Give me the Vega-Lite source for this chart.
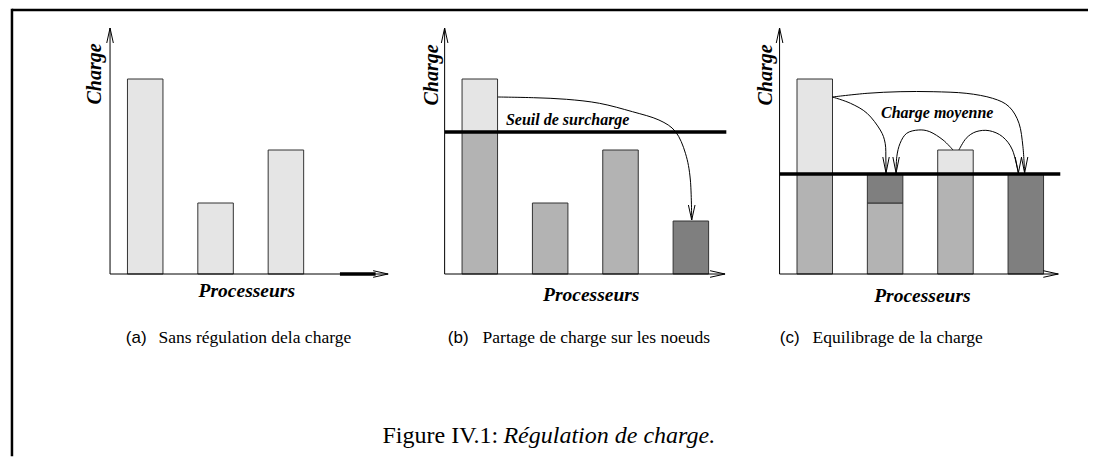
{
  "$schema": "https://vega.github.io/schema/vega-lite/v6.json",
  "width": 1093,
  "height": 459,
  "autosize": {"type": "fit", "contains": "padding"},
  "padding": 0,
  "background": "white",
  "config": {"view": {"stroke": null}},
  "datasets": {
    "barres": [
      {"panneau": "a", "processeur": 1, "bas": 0, "haut": 19.5, "part": "initiale"},
      {"panneau": "a", "processeur": 2, "bas": 0, "haut": 7.1, "part": "initiale"},
      {"panneau": "a", "processeur": 3, "bas": 0, "haut": 12.4, "part": "initiale"},
      {"panneau": "b", "processeur": 1, "bas": 0, "haut": 14.2, "part": "conservée"},
      {"panneau": "b", "processeur": 1, "bas": 14.2, "haut": 19.5, "part": "initiale"},
      {"panneau": "b", "processeur": 2, "bas": 0, "haut": 7.1, "part": "conservée"},
      {"panneau": "b", "processeur": 3, "bas": 0, "haut": 12.4, "part": "conservée"},
      {"panneau": "b", "processeur": 4, "bas": 0, "haut": 5.3, "part": "reçue"},
      {"panneau": "c", "processeur": 1, "bas": 0, "haut": 10, "part": "conservée"},
      {"panneau": "c", "processeur": 1, "bas": 10, "haut": 19.5, "part": "initiale"},
      {"panneau": "c", "processeur": 2, "bas": 0, "haut": 7.1, "part": "conservée"},
      {"panneau": "c", "processeur": 2, "bas": 7.1, "haut": 10, "part": "reçue"},
      {"panneau": "c", "processeur": 3, "bas": 0, "haut": 10, "part": "conservée"},
      {"panneau": "c", "processeur": 3, "bas": 10, "haut": 12.4, "part": "initiale"},
      {"panneau": "c", "processeur": 4, "bas": 0, "haut": 10, "part": "reçue"}
    ],
    "fleches": [
      {"panneau": "b", "fleche": "b1-b4", "ordre": 1, "processeur": 1.255, "charge": 17.7},
      {"panneau": "b", "fleche": "b1-b4", "ordre": 2, "processeur": 1.762, "charge": 17.63},
      {"panneau": "b", "fleche": "b1-b4", "ordre": 3, "processeur": 2.232, "charge": 17.47},
      {"panneau": "b", "fleche": "b1-b4", "ordre": 4, "processeur": 2.701, "charge": 17.07},
      {"panneau": "b", "fleche": "b1-b4", "ordre": 5, "processeur": 3.17, "charge": 16.23},
      {"panneau": "b", "fleche": "b1-b4", "ordre": 6, "processeur": 3.546, "charge": 15.4},
      {"panneau": "b", "fleche": "b1-b4", "ordre": 7, "processeur": 3.782, "charge": 14.23},
      {"panneau": "b", "fleche": "b1-b4", "ordre": 8, "processeur": 3.923, "charge": 12.07},
      {"panneau": "b", "fleche": "b1-b4", "ordre": 9, "processeur": 3.993, "charge": 9.4},
      {"panneau": "b", "fleche": "b1-b4", "ordre": 10, "processeur": 4.012, "charge": 5.4},
      {"panneau": "c", "fleche": "c1-c2", "ordre": 1, "processeur": 1.251, "charge": 17.7},
      {"panneau": "c", "fleche": "c1-c2", "ordre": 2, "processeur": 1.508, "charge": 17.07},
      {"panneau": "c", "fleche": "c1-c2", "ordre": 3, "processeur": 1.744, "charge": 16.07},
      {"panneau": "c", "fleche": "c1-c2", "ordre": 4, "processeur": 1.931, "charge": 14.4},
      {"panneau": "c", "fleche": "c1-c2", "ordre": 5, "processeur": 2.001, "charge": 13.07},
      {"panneau": "c", "fleche": "c1-c2", "ordre": 6, "processeur": 2.011, "charge": 11.4},
      {"panneau": "c", "fleche": "c1-c2", "ordre": 7, "processeur": 2.013, "charge": 10.1},
      {"panneau": "c", "fleche": "c1-c4", "ordre": 1, "processeur": 1.251, "charge": 17.7},
      {"panneau": "c", "fleche": "c1-c4", "ordre": 2, "processeur": 1.744, "charge": 18.07},
      {"panneau": "c", "fleche": "c1-c4", "ordre": 3, "processeur": 2.213, "charge": 18.23},
      {"panneau": "c", "fleche": "c1-c4", "ordre": 4, "processeur": 2.683, "charge": 18.23},
      {"panneau": "c", "fleche": "c1-c4", "ordre": 5, "processeur": 3.152, "charge": 18.07},
      {"panneau": "c", "fleche": "c1-c4", "ordre": 6, "processeur": 3.528, "charge": 17.57},
      {"panneau": "c", "fleche": "c1-c4", "ordre": 7, "processeur": 3.762, "charge": 16.73},
      {"panneau": "c", "fleche": "c1-c4", "ordre": 8, "processeur": 3.903, "charge": 15.07},
      {"panneau": "c", "fleche": "c1-c4", "ordre": 9, "processeur": 3.959, "charge": 12.73},
      {"panneau": "c", "fleche": "c1-c4", "ordre": 10, "processeur": 3.983, "charge": 10.1},
      {"panneau": "c", "fleche": "c3-c2", "ordre": 1, "processeur": 2.965, "charge": 12.4},
      {"panneau": "c", "fleche": "c3-c2", "ordre": 2, "processeur": 2.824, "charge": 13.4},
      {"panneau": "c", "fleche": "c3-c2", "ordre": 3, "processeur": 2.635, "charge": 14.23},
      {"panneau": "c", "fleche": "c3-c2", "ordre": 4, "processeur": 2.472, "charge": 14.4},
      {"panneau": "c", "fleche": "c3-c2", "ordre": 5, "processeur": 2.307, "charge": 14.07},
      {"panneau": "c", "fleche": "c3-c2", "ordre": 6, "processeur": 2.213, "charge": 13.07},
      {"panneau": "c", "fleche": "c3-c2", "ordre": 7, "processeur": 2.166, "charge": 11.73},
      {"panneau": "c", "fleche": "c3-c2", "ordre": 8, "processeur": 2.156, "charge": 10.1},
      {"panneau": "c", "fleche": "c3-c4", "ordre": 1, "processeur": 3.049, "charge": 12.4},
      {"panneau": "c", "fleche": "c3-c4", "ordre": 2, "processeur": 3.152, "charge": 13.57},
      {"panneau": "c", "fleche": "c3-c4", "ordre": 3, "processeur": 3.293, "charge": 14.23},
      {"panneau": "c", "fleche": "c3-c4", "ordre": 4, "processeur": 3.48, "charge": 14.33},
      {"panneau": "c", "fleche": "c3-c4", "ordre": 5, "processeur": 3.669, "charge": 13.73},
      {"panneau": "c", "fleche": "c3-c4", "ordre": 6, "processeur": 3.81, "charge": 12.4},
      {"panneau": "c", "fleche": "c3-c4", "ordre": 7, "processeur": 3.894, "charge": 10.1}
    ]
  },
  "resolve": {"scale": {"x": "independent"}},
  "layer": [
    {
      "layer": [
        {"data": {"values": [{}]}, "mark": {"type": "rule", "color": "black", "strokeWidth": 2.5},
         "encoding": {"x": {"datum": -0.894, "type": "quantitative", "scale": {"domain": [-0.993, 14.401], "nice": false, "zero": false}, "axis": null},
                      "x2": {"datum": 14.401},
                      "y": {"datum": 26.4, "type": "quantitative", "scale": {"domain": [-18.5, 27.4], "nice": false, "zero": false}, "axis": null}}},
        {"data": {"values": [{}]}, "mark": {"type": "rule", "color": "black", "strokeWidth": 2.5, "strokeCap": "square"},
         "encoding": {"x": {"datum": -0.894, "type": "quantitative", "scale": {"domain": [-0.993, 14.401], "nice": false, "zero": false}, "axis": null},
                      "y": {"datum": -18.1, "type": "quantitative", "scale": {"domain": [-18.5, 27.4], "nice": false, "zero": false}, "axis": null},
                      "y2": {"datum": 26.4}}},
        {"data": {"name": "barres"}, "transform": [{"filter": "datum.panneau === 'a'"}],
         "mark": {"type": "bar", "width": 35.5, "stroke": "#333333", "strokeWidth": 1},
         "encoding": {"x": {"field": "processeur", "type": "quantitative", "scale": {"domain": [-0.993, 14.401], "nice": false, "zero": false}, "axis": null},
                      "y": {"field": "bas", "type": "quantitative", "scale": {"domain": [-18.5, 27.4], "nice": false, "zero": false}, "axis": null},
                      "y2": {"field": "haut"},
                      "fill": {"field": "part", "type": "nominal", "scale": {"domain": ["initiale", "conservée", "reçue"], "range": ["#e5e5e5", "#b3b3b3", "#7f7f7f"]}, "legend": null}}},
        {"data": {"values": [{}]}, "mark": {"type": "rule", "color": "black", "strokeWidth": 1},
         "encoding": {"x": {"datum": 0.5, "type": "quantitative", "scale": {"domain": [-0.993, 14.401], "nice": false, "zero": false}, "axis": null},
                      "y": {"datum": 0, "type": "quantitative", "scale": {"domain": [-18.5, 27.4], "nice": false, "zero": false}, "axis": null},
                      "y2": {"datum": 24.6}}},
        {"data": {"values": [{}]}, "mark": {"type": "point", "shape": "M-0.44,1L0,-1L0.44,1", "size": 225, "filled": false, "color": "black", "strokeWidth": 1, "opacity": 1, "yOffset": 7.5},
         "encoding": {"x": {"datum": 0.5, "type": "quantitative", "scale": {"domain": [-0.993, 14.401], "nice": false, "zero": false}, "axis": null},
                      "y": {"datum": 24.6, "type": "quantitative", "scale": {"domain": [-18.5, 27.4], "nice": false, "zero": false}, "axis": null}}},
        {"data": {"values": [{}]}, "mark": {"type": "rule", "color": "black", "strokeWidth": 1},
         "encoding": {"x": {"datum": 0.5, "type": "quantitative", "scale": {"domain": [-0.993, 14.401], "nice": false, "zero": false}, "axis": null},
                      "x2": {"datum": 4.453},
                      "y": {"datum": 0, "type": "quantitative", "scale": {"domain": [-18.5, 27.4], "nice": false, "zero": false}, "axis": null}}},
        {"data": {"values": [{}]}, "mark": {"type": "rule", "color": "black", "strokeWidth": 3.5},
         "encoding": {"x": {"datum": 3.768, "type": "quantitative", "scale": {"domain": [-0.993, 14.401], "nice": false, "zero": false}, "axis": null},
                      "x2": {"datum": 4.275},
                      "y": {"datum": 0, "type": "quantitative", "scale": {"domain": [-18.5, 27.4], "nice": false, "zero": false}, "axis": null}}},
        {"data": {"values": [{}]}, "mark": {"type": "point", "shape": "M-1,-0.44L1,0L-1,0.44", "size": 225, "filled": false, "color": "black", "strokeWidth": 1, "opacity": 1, "xOffset": -7.5},
         "encoding": {"x": {"datum": 4.453, "type": "quantitative", "scale": {"domain": [-0.993, 14.401], "nice": false, "zero": false}, "axis": null},
                      "y": {"datum": 0, "type": "quantitative", "scale": {"domain": [-18.5, 27.4], "nice": false, "zero": false}, "axis": null}}},
        {"data": {"values": [{}]}, "mark": {"type": "text", "text": "Charge", "font": "Liberation Serif", "fontStyle": "italic", "fontWeight": "bold", "fontSize": 20, "angle": 270, "align": "center", "baseline": "middle", "color": "black"},
         "encoding": {"x": {"datum": 0.29, "type": "quantitative", "scale": {"domain": [-0.993, 14.401], "nice": false, "zero": false}, "axis": null},
                      "y": {"datum": 20.0, "type": "quantitative", "scale": {"domain": [-18.5, 27.4], "nice": false, "zero": false}, "axis": null}}},
        {"data": {"values": [{}]}, "mark": {"type": "text", "text": "Processeurs", "font": "Liberation Serif", "fontStyle": "italic", "fontWeight": "bold", "fontSize": 19.5, "align": "center", "baseline": "alphabetic", "color": "black"},
         "encoding": {"x": {"datum": 2.444, "type": "quantitative", "scale": {"domain": [-0.993, 14.401], "nice": false, "zero": false}, "axis": null},
                      "y": {"datum": -2.3, "type": "quantitative", "scale": {"domain": [-18.5, 27.4], "nice": false, "zero": false}, "axis": null}}},
        {"data": {"values": [{}]}, "mark": {"type": "text", "text": "(a)", "font": "Liberation Sans", "fontSize": 17, "align": "left", "baseline": "alphabetic", "color": "black"},
         "encoding": {"x": {"datum": 0.725, "type": "quantitative", "scale": {"domain": [-0.993, 14.401], "nice": false, "zero": false}, "axis": null},
                      "y": {"datum": -6.9, "type": "quantitative", "scale": {"domain": [-18.5, 27.4], "nice": false, "zero": false}, "axis": null}}},
        {"data": {"values": [{}]}, "mark": {"type": "text", "text": "Sans régulation dela charge", "font": "Liberation Serif", "fontSize": 17.5, "align": "left", "baseline": "alphabetic", "color": "black"},
         "encoding": {"x": {"datum": 1.19, "type": "quantitative", "scale": {"domain": [-0.993, 14.401], "nice": false, "zero": false}, "axis": null},
                      "y": {"datum": -6.9, "type": "quantitative", "scale": {"domain": [-18.5, 27.4], "nice": false, "zero": false}, "axis": null}}},
        {"data": {"values": [{}]}, "mark": {"type": "text", "text": "Figure IV.1:", "font": "Liberation Serif", "fontSize": 24, "align": "left", "baseline": "alphabetic", "color": "black"},
         "encoding": {"x": {"datum": 4.373, "type": "quantitative", "scale": {"domain": [-0.993, 14.401], "nice": false, "zero": false}, "axis": null},
                      "y": {"datum": -16.9, "type": "quantitative", "scale": {"domain": [-18.5, 27.4], "nice": false, "zero": false}, "axis": null}}},
        {"data": {"values": [{}]}, "mark": {"type": "text", "text": "Régulation de charge.", "font": "Liberation Serif", "fontStyle": "italic", "fontSize": 24, "align": "left", "baseline": "alphabetic", "color": "black"},
         "encoding": {"x": {"datum": 6.092, "type": "quantitative", "scale": {"domain": [-0.993, 14.401], "nice": false, "zero": false}, "axis": null},
                      "y": {"datum": -16.9, "type": "quantitative", "scale": {"domain": [-18.5, 27.4], "nice": false, "zero": false}, "axis": null}}}
      ]
    },
    {
      "layer": [
        {"data": {"name": "barres"}, "transform": [{"filter": "datum.panneau === 'b'"}],
         "mark": {"type": "bar", "width": 35.5, "stroke": "#333333", "strokeWidth": 1},
         "encoding": {"x": {"field": "processeur", "type": "quantitative", "scale": {"domain": [-5.749, 9.645], "nice": false, "zero": false}, "axis": null},
                      "y": {"field": "bas", "type": "quantitative", "scale": {"domain": [-18.5, 27.4], "nice": false, "zero": false}, "axis": null},
                      "y2": {"field": "haut"},
                      "fill": {"field": "part", "type": "nominal", "scale": {"domain": ["initiale", "conservée", "reçue"], "range": ["#e5e5e5", "#b3b3b3", "#7f7f7f"]}, "legend": null}}},
        {"data": {"values": [{}]}, "mark": {"type": "rule", "color": "black", "strokeWidth": 3.5},
         "encoding": {"x": {"datum": 0.504, "type": "quantitative", "scale": {"domain": [-5.749, 9.645], "nice": false, "zero": false}, "axis": null},
                      "x2": {"datum": 4.504},
                      "y": {"datum": 14.2, "type": "quantitative", "scale": {"domain": [-18.5, 27.4], "nice": false, "zero": false}, "axis": null}}},
        {"data": {"values": [{}]}, "mark": {"type": "rule", "color": "black", "strokeWidth": 1},
         "encoding": {"x": {"datum": 0.5, "type": "quantitative", "scale": {"domain": [-5.749, 9.645], "nice": false, "zero": false}, "axis": null},
                      "y": {"datum": 0, "type": "quantitative", "scale": {"domain": [-18.5, 27.4], "nice": false, "zero": false}, "axis": null},
                      "y2": {"datum": 24.6}}},
        {"data": {"values": [{}]}, "mark": {"type": "point", "shape": "M-0.44,1L0,-1L0.44,1", "size": 225, "filled": false, "color": "black", "strokeWidth": 1, "opacity": 1, "yOffset": 7.5},
         "encoding": {"x": {"datum": 0.5, "type": "quantitative", "scale": {"domain": [-5.749, 9.645], "nice": false, "zero": false}, "axis": null},
                      "y": {"datum": 24.6, "type": "quantitative", "scale": {"domain": [-18.5, 27.4], "nice": false, "zero": false}, "axis": null}}},
        {"data": {"values": [{}]}, "mark": {"type": "rule", "color": "black", "strokeWidth": 1},
         "encoding": {"x": {"datum": 0.5, "type": "quantitative", "scale": {"domain": [-5.749, 9.645], "nice": false, "zero": false}, "axis": null},
                      "x2": {"datum": 4.486},
                      "y": {"datum": 0, "type": "quantitative", "scale": {"domain": [-18.5, 27.4], "nice": false, "zero": false}, "axis": null}}},
        {"data": {"values": [{}]}, "mark": {"type": "point", "shape": "M-1,-0.44L1,0L-1,0.44", "size": 225, "filled": false, "color": "black", "strokeWidth": 1, "opacity": 1, "xOffset": -7.5},
         "encoding": {"x": {"datum": 4.486, "type": "quantitative", "scale": {"domain": [-5.749, 9.645], "nice": false, "zero": false}, "axis": null},
                      "y": {"datum": 0, "type": "quantitative", "scale": {"domain": [-18.5, 27.4], "nice": false, "zero": false}, "axis": null}}},
        {"data": {"name": "fleches"}, "transform": [{"filter": "datum.panneau === 'b'"}],
         "mark": {"type": "line", "interpolate": "cardinal", "color": "black", "strokeWidth": 1},
         "encoding": {"x": {"field": "processeur", "type": "quantitative", "scale": {"domain": [-5.749, 9.645], "nice": false, "zero": false}, "axis": null},
                      "y": {"field": "charge", "type": "quantitative", "scale": {"domain": [-18.5, 27.4], "nice": false, "zero": false}, "axis": null},
                      "detail": {"field": "fleche", "type": "nominal"},
                      "order": {"field": "ordre", "type": "quantitative"}}},
        {"data": {"name": "fleches"}, "transform": [{"filter": "datum.panneau === 'b'"}, {"joinaggregate": [{"op": "max", "field": "ordre", "as": "dernier"}], "groupby": ["fleche"]}, {"filter": "datum.ordre === datum.dernier"}],
         "mark": {"type": "point", "shape": "M-0.44,-1L0,1L0.44,-1", "size": 225, "filled": false, "color": "black", "strokeWidth": 1, "opacity": 1, "yOffset": -7.5},
         "encoding": {"x": {"field": "processeur", "type": "quantitative", "scale": {"domain": [-5.749, 9.645], "nice": false, "zero": false}, "axis": null},
                      "y": {"field": "charge", "type": "quantitative", "scale": {"domain": [-18.5, 27.4], "nice": false, "zero": false}, "axis": null}}},
        {"data": {"values": [{}]}, "mark": {"type": "text", "text": "Charge", "font": "Liberation Serif", "fontStyle": "italic", "fontWeight": "bold", "fontSize": 20, "angle": 270, "align": "center", "baseline": "middle", "color": "black"},
         "encoding": {"x": {"datum": 0.32, "type": "quantitative", "scale": {"domain": [-5.749, 9.645], "nice": false, "zero": false}, "axis": null},
                      "y": {"datum": 19.9, "type": "quantitative", "scale": {"domain": [-18.5, 27.4], "nice": false, "zero": false}, "axis": null}}},
        {"data": {"values": [{}]}, "mark": {"type": "text", "text": "Processeurs", "font": "Liberation Serif", "fontStyle": "italic", "fontWeight": "bold", "fontSize": 19.5, "align": "center", "baseline": "alphabetic", "color": "black"},
         "encoding": {"x": {"datum": 2.584, "type": "quantitative", "scale": {"domain": [-5.749, 9.645], "nice": false, "zero": false}, "axis": null},
                      "y": {"datum": -2.7, "type": "quantitative", "scale": {"domain": [-18.5, 27.4], "nice": false, "zero": false}, "axis": null}}},
        {"data": {"values": [{}]}, "mark": {"type": "text", "text": "Seuil de surcharge", "font": "Liberation Serif", "fontStyle": "italic", "fontWeight": "bold", "fontSize": 16, "align": "center", "baseline": "alphabetic", "color": "black"},
         "encoding": {"x": {"datum": 2.249, "type": "quantitative", "scale": {"domain": [-5.749, 9.645], "nice": false, "zero": false}, "axis": null},
                      "y": {"datum": 14.9, "type": "quantitative", "scale": {"domain": [-18.5, 27.4], "nice": false, "zero": false}, "axis": null}}},
        {"data": {"values": [{}]}, "mark": {"type": "text", "text": "(b)", "font": "Liberation Sans", "fontSize": 17, "align": "left", "baseline": "alphabetic", "color": "black"},
         "encoding": {"x": {"datum": 0.546, "type": "quantitative", "scale": {"domain": [-5.749, 9.645], "nice": false, "zero": false}, "axis": null},
                      "y": {"datum": -6.9, "type": "quantitative", "scale": {"domain": [-18.5, 27.4], "nice": false, "zero": false}, "axis": null}}},
        {"data": {"values": [{}]}, "mark": {"type": "text", "text": "Partage de charge sur les noeuds", "font": "Liberation Serif", "fontSize": 17.5, "align": "left", "baseline": "alphabetic", "color": "black"},
         "encoding": {"x": {"datum": 1.039, "type": "quantitative", "scale": {"domain": [-5.749, 9.645], "nice": false, "zero": false}, "axis": null},
                      "y": {"datum": -6.9, "type": "quantitative", "scale": {"domain": [-18.5, 27.4], "nice": false, "zero": false}, "axis": null}}}
      ]
    },
    {
      "layer": [
        {"data": {"name": "barres"}, "transform": [{"filter": "datum.panneau === 'c'"}],
         "mark": {"type": "bar", "width": 35.5, "stroke": "#333333", "strokeWidth": 1},
         "encoding": {"x": {"field": "processeur", "type": "quantitative", "scale": {"domain": [-10.51, 4.884], "nice": false, "zero": false}, "axis": null},
                      "y": {"field": "bas", "type": "quantitative", "scale": {"domain": [-18.5, 27.4], "nice": false, "zero": false}, "axis": null},
                      "y2": {"field": "haut"},
                      "fill": {"field": "part", "type": "nominal", "scale": {"domain": ["initiale", "conservée", "reçue"], "range": ["#e5e5e5", "#b3b3b3", "#7f7f7f"]}, "legend": null}}},
        {"data": {"values": [{}]}, "mark": {"type": "rule", "color": "black", "strokeWidth": 3.5},
         "encoding": {"x": {"datum": 0.504, "type": "quantitative", "scale": {"domain": [-10.51, 4.884], "nice": false, "zero": false}, "axis": null},
                      "x2": {"datum": 4.49},
                      "y": {"datum": 10, "type": "quantitative", "scale": {"domain": [-18.5, 27.4], "nice": false, "zero": false}, "axis": null}}},
        {"data": {"values": [{}]}, "mark": {"type": "rule", "color": "black", "strokeWidth": 1},
         "encoding": {"x": {"datum": 0.5, "type": "quantitative", "scale": {"domain": [-10.51, 4.884], "nice": false, "zero": false}, "axis": null},
                      "y": {"datum": 0, "type": "quantitative", "scale": {"domain": [-18.5, 27.4], "nice": false, "zero": false}, "axis": null},
                      "y2": {"datum": 24.6}}},
        {"data": {"values": [{}]}, "mark": {"type": "point", "shape": "M-0.44,1L0,-1L0.44,1", "size": 225, "filled": false, "color": "black", "strokeWidth": 1, "opacity": 1, "yOffset": 7.5},
         "encoding": {"x": {"datum": 0.5, "type": "quantitative", "scale": {"domain": [-10.51, 4.884], "nice": false, "zero": false}, "axis": null},
                      "y": {"datum": 24.6, "type": "quantitative", "scale": {"domain": [-18.5, 27.4], "nice": false, "zero": false}, "axis": null}}},
        {"data": {"values": [{}]}, "mark": {"type": "rule", "color": "black", "strokeWidth": 1},
         "encoding": {"x": {"datum": 0.5, "type": "quantitative", "scale": {"domain": [-10.51, 4.884], "nice": false, "zero": false}, "axis": null},
                      "x2": {"datum": 4.462},
                      "y": {"datum": 0, "type": "quantitative", "scale": {"domain": [-18.5, 27.4], "nice": false, "zero": false}, "axis": null}}},
        {"data": {"values": [{}]}, "mark": {"type": "point", "shape": "M-1,-0.44L1,0L-1,0.44", "size": 225, "filled": false, "color": "black", "strokeWidth": 1, "opacity": 1, "xOffset": -7.5},
         "encoding": {"x": {"datum": 4.462, "type": "quantitative", "scale": {"domain": [-10.51, 4.884], "nice": false, "zero": false}, "axis": null},
                      "y": {"datum": 0, "type": "quantitative", "scale": {"domain": [-18.5, 27.4], "nice": false, "zero": false}, "axis": null}}},
        {"data": {"name": "fleches"}, "transform": [{"filter": "datum.panneau === 'c'"}],
         "mark": {"type": "line", "interpolate": "cardinal", "color": "black", "strokeWidth": 1},
         "encoding": {"x": {"field": "processeur", "type": "quantitative", "scale": {"domain": [-10.51, 4.884], "nice": false, "zero": false}, "axis": null},
                      "y": {"field": "charge", "type": "quantitative", "scale": {"domain": [-18.5, 27.4], "nice": false, "zero": false}, "axis": null},
                      "detail": {"field": "fleche", "type": "nominal"},
                      "order": {"field": "ordre", "type": "quantitative"}}},
        {"data": {"name": "fleches"}, "transform": [{"filter": "datum.panneau === 'c'"}, {"joinaggregate": [{"op": "max", "field": "ordre", "as": "dernier"}], "groupby": ["fleche"]}, {"filter": "datum.ordre === datum.dernier"}],
         "mark": {"type": "point", "shape": "M-0.4,-1L0,1L0.4,-1", "size": 256, "filled": false, "color": "black", "strokeWidth": 1, "opacity": 1, "yOffset": -8},
         "encoding": {"x": {"field": "processeur", "type": "quantitative", "scale": {"domain": [-10.51, 4.884], "nice": false, "zero": false}, "axis": null},
                      "y": {"field": "charge", "type": "quantitative", "scale": {"domain": [-18.5, 27.4], "nice": false, "zero": false}, "axis": null}}},
        {"data": {"values": [{}]}, "mark": {"type": "text", "text": "Charge", "font": "Liberation Serif", "fontStyle": "italic", "fontWeight": "bold", "fontSize": 20, "angle": 270, "align": "center", "baseline": "middle", "color": "black"},
         "encoding": {"x": {"datum": 0.3, "type": "quantitative", "scale": {"domain": [-10.51, 4.884], "nice": false, "zero": false}, "axis": null},
                      "y": {"datum": 19.9, "type": "quantitative", "scale": {"domain": [-18.5, 27.4], "nice": false, "zero": false}, "axis": null}}},
        {"data": {"values": [{}]}, "mark": {"type": "text", "text": "Processeurs", "font": "Liberation Serif", "fontStyle": "italic", "fontWeight": "bold", "fontSize": 19.5, "align": "center", "baseline": "alphabetic", "color": "black"},
         "encoding": {"x": {"datum": 2.53, "type": "quantitative", "scale": {"domain": [-10.51, 4.884], "nice": false, "zero": false}, "axis": null},
                      "y": {"datum": -2.8, "type": "quantitative", "scale": {"domain": [-18.5, 27.4], "nice": false, "zero": false}, "axis": null}}},
        {"data": {"values": [{}]}, "mark": {"type": "text", "text": "Charge moyenne", "font": "Liberation Serif", "fontStyle": "italic", "fontWeight": "bold", "fontSize": 16, "align": "center", "baseline": "alphabetic", "color": "black"},
         "encoding": {"x": {"datum": 2.741, "type": "quantitative", "scale": {"domain": [-10.51, 4.884], "nice": false, "zero": false}, "axis": null},
                      "y": {"datum": 15.6, "type": "quantitative", "scale": {"domain": [-18.5, 27.4], "nice": false, "zero": false}, "axis": null}}},
        {"data": {"values": [{}]}, "mark": {"type": "text", "text": "(c)", "font": "Liberation Sans", "fontSize": 17, "align": "left", "baseline": "alphabetic", "color": "black"},
         "encoding": {"x": {"datum": 0.504, "type": "quantitative", "scale": {"domain": [-10.51, 4.884], "nice": false, "zero": false}, "axis": null},
                      "y": {"datum": -6.9, "type": "quantitative", "scale": {"domain": [-18.5, 27.4], "nice": false, "zero": false}, "axis": null}}},
        {"data": {"values": [{}]}, "mark": {"type": "text", "text": "Equilibrage de la charge", "font": "Liberation Serif", "fontSize": 17.5, "align": "left", "baseline": "alphabetic", "color": "black"},
         "encoding": {"x": {"datum": 0.969, "type": "quantitative", "scale": {"domain": [-10.51, 4.884], "nice": false, "zero": false}, "axis": null},
                      "y": {"datum": -6.9, "type": "quantitative", "scale": {"domain": [-18.5, 27.4], "nice": false, "zero": false}, "axis": null}}}
      ]
    }
  ]
}
